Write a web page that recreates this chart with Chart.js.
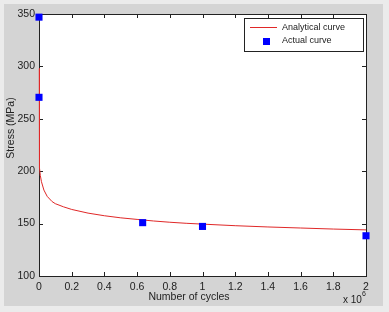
<!DOCTYPE html>
<html><head><meta charset="utf-8">
<script src="https://cdn.jsdelivr.net/npm/chart.js@4"></script>
<style>html,body{margin:0;padding:0;background:#ebebeb;overflow:hidden}</style>
</head><body>
<canvas id="c" width="389" height="312" style="display:block;width:389px;height:312px"></canvas>
<script>
// Number of cycles in units of 10^6
const curveCycles = [0.002, 0.002, 0.004, 0.008, 0.015, 0.03, 0.05, 0.08, 0.1, 0.15, 0.2, 0.3, 0.4, 0.5, 0.6, 0.7, 0.8, 0.9, 1.0, 1.2, 1.4, 1.6, 1.8, 2.0];
const curveStress = [298, 210, 203, 196, 190, 182, 176, 171, 169, 166, 163.5, 160, 157.5, 155.5, 154, 152.5, 151.3, 150.3, 149.5, 148, 146.8, 145.8, 144.8, 144];
const actualCycles = [0, 0, 0.634, 1.0, 2.0];
const actualStress = [347, 270.5, 150.9, 147.3, 138.4];
const xTickValues = [0, 0.2, 0.4, 0.6, 0.8, 1, 1.2, 1.4, 1.6, 1.8, 2];
const yTickValues = [100, 150, 200, 250, 300, 350];
const seriesNames = ['Analytical curve', 'Actual curve'];
const xTitle = 'Number of cycles';
const yTitle = 'Stress (MPa)';
const xExponent = '6';

const FONT = '"Liberation Sans", Arial, sans-serif';
const RED = '#e02828';
const BLUE = '#0000ff';
const INK = '#222222';

const bgPlugin = {
  id: 'bg',
  beforeDraw(chart) {
    const ctx = chart.ctx, a = chart.chartArea;
    ctx.save();
    ctx.fillStyle = '#ebebeb';
    ctx.fillRect(0, 0, chart.width, chart.height);
    ctx.fillStyle = '#d4d4d4';
    ctx.fillRect(4, 4, 379, 302);
    ctx.fillStyle = '#ffffff';
    ctx.fillRect(a.left, a.top, a.right - a.left, a.bottom - a.top);
    ctx.restore();
  },
  beforeDatasetsDraw(chart) {
    const ctx = chart.ctx, a = chart.chartArea;
    const xs = chart.scales.x, ys = chart.scales.y;
    ctx.save();
    ctx.strokeStyle = INK;
    ctx.lineWidth = 1;
    ctx.beginPath();
    xTickValues.forEach(v => {
      const px = Math.round(xs.getPixelForValue(v)) + 0.5;
      ctx.moveTo(px, a.bottom); ctx.lineTo(px, a.bottom - 4);
      ctx.moveTo(px, a.top); ctx.lineTo(px, a.top + 4);
    });
    yTickValues.forEach(v => {
      const py = Math.round(ys.getPixelForValue(v)) + 0.5;
      ctx.moveTo(a.left, py); ctx.lineTo(a.left + 4, py);
      ctx.moveTo(a.right, py); ctx.lineTo(a.right - 4, py);
    });
    ctx.stroke();
    ctx.strokeRect(Math.round(a.left) + 0.5, Math.round(a.top) + 0.5, Math.round(a.right - a.left), Math.round(a.bottom - a.top));
    ctx.restore();
  },
  afterDraw(chart) {
    const ctx = chart.ctx;
    ctx.save();
    ctx.fillStyle = INK;
    ctx.font = '10.5px ' + FONT;
    ctx.textAlign = 'center';
    ctx.textBaseline = 'middle';
    ctx.fillText(xTitle, 189, 297);
    ctx.save();
    ctx.translate(11, 128);
    ctx.rotate(-Math.PI / 2);
    ctx.fillText(yTitle, 0, 0);
    ctx.restore();
    ctx.textAlign = 'left';
    ctx.font = '10px ' + FONT;
    ctx.fillText('x 10', 343, 300);
    ctx.font = '7px ' + FONT;
    ctx.fillText(xExponent, 362, 294);
    // legend
    const bx = 244.5, by = 18.5, bw = 119, bh = 33;
    ctx.fillStyle = '#ffffff';
    ctx.fillRect(bx, by, bw, bh);
    ctx.strokeStyle = INK;
    ctx.lineWidth = 1;
    ctx.strokeRect(bx, by, bw, bh);
    ctx.strokeStyle = RED;
    ctx.beginPath();
    ctx.moveTo(250, 27.5); ctx.lineTo(277, 27.5);
    ctx.stroke();
    ctx.fillStyle = BLUE;
    ctx.fillRect(263, 38, 7, 7);
    ctx.fillStyle = INK;
    ctx.font = '9px ' + FONT;
    ctx.textAlign = 'left';
    ctx.textBaseline = 'middle';
    ctx.fillText(seriesNames[0], 282, 28);
    ctx.fillText(seriesNames[1], 282, 41);
    ctx.restore();
  }
};

new Chart(document.getElementById('c'), {
  type: 'scatter',
  data: {
    datasets: [
      {
        label: seriesNames[0],
        data: curveCycles.map((x, i) => ({x, y: curveStress[i]})),
        showLine: true,
        borderColor: RED,
        borderWidth: 1,
        pointRadius: 0,
        tension: 0,
        clip: false,
        order: 1
      },
      {
        label: seriesNames[1],
        data: actualCycles.map((x, i) => ({x, y: actualStress[i]})),
        pointStyle: 'rect',
        pointRadius: 5,
        backgroundColor: BLUE,
        borderColor: BLUE,
        borderWidth: 0,
        clip: false,
        order: 0
      }
    ]
  },
  options: {
    responsive: false,
    animation: false,
    devicePixelRatio: 1,
    layout: { padding: { left: 0, top: 14, right: 23, bottom: 0 } },
    plugins: { legend: { display: false }, tooltip: { enabled: false } },
    scales: {
      x: {
        type: 'linear', min: 0, max: 2,
        afterFit(s) { s.height = 36; },
        afterBuildTicks(s) { s.ticks = xTickValues.map(v => ({value: v})); },
        grid: { display: false, drawTicks: false },
        border: { display: false },
        ticks: { font: { size: 10.5, family: FONT }, color: INK, padding: 5, maxRotation: 0, autoSkip: false,
                 callback: v => String(+v.toFixed(1)) }
      },
      y: {
        type: 'linear', min: 100, max: 350,
        afterFit(s) { s.width = 39; },
        afterBuildTicks(s) { s.ticks = yTickValues.map(v => ({value: v})); },
        grid: { display: false, drawTicks: false },
        border: { display: false },
        ticks: { font: { size: 10.5, family: FONT }, color: INK, padding: 4, autoSkip: false,
                 callback: v => String(v) }
      }
    }
  },
  plugins: [bgPlugin]
});
</script>
</body></html>
